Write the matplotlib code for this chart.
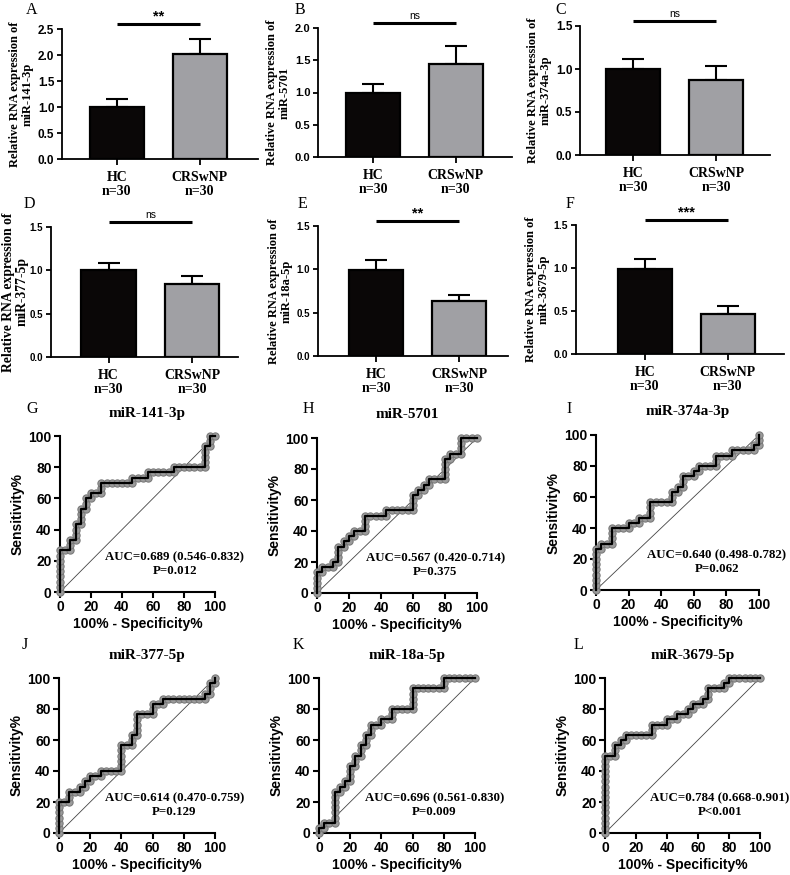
import matplotlib
matplotlib.use("Agg")
import matplotlib.pyplot as plt
import matplotlib.transforms as mtransforms

# ---- bar chart data (panels A-F) ----
groups = ["HC\nn=30", "CRSwNP\nn=30"]
bar_mirnas = ["miR-141-3p", "miR-5701", "miR-374a-3p",
              "miR-377-5p", "miR-18a-5p", "miR-3679-5p"]
hc_mean = [1.00, 0.99, 1.00, 1.00, 0.99, 0.99]
hc_err = [0.15, 0.14, 0.12, 0.09, 0.12, 0.12]
crs_mean = [2.01, 1.44, 0.87, 0.84, 0.63, 0.47]
crs_err = [0.30, 0.28, 0.17, 0.10, 0.07, 0.09]
bar_sig = ["**", "ns", "ns", "ns", "**", "***"]
bar_ymax = [2.5, 2.0, 1.5, 1.5, 1.5, 1.5]

# ---- ROC data (panels G-L), counts out of 30 controls / 30 patients ----
# at each fpr count the sensitivity count rises to the matching tpr count
roc_mirnas = ["miR-141-3p", "miR-5701", "miR-374a-3p",
              "miR-377-5p", "miR-18a-5p", "miR-3679-5p"]
g_fpr = [0, 2, 3, 4, 5, 6, 8, 14, 17, 22, 28, 29, 30]
g_tpr = [8, 10, 13, 16, 18, 19, 21, 22, 23, 24, 28, 30, 30]
h_fpr = [0, 1, 3, 4, 5, 6, 7, 9, 13, 18, 19, 20, 21, 24, 25, 27, 30]
h_tpr = [4, 5, 6, 9, 10, 11, 12, 15, 16, 19, 20, 21, 22, 26, 27, 30, 30]
i_fpr = [0, 1, 3, 6, 8, 10, 14, 15, 16, 18, 19, 22, 25, 29, 30]
i_tpr = [8, 9, 12, 13, 14, 17, 19, 20, 22, 23, 24, 26, 27, 28, 30]
j_fpr = [0, 2, 4, 5, 6, 8, 12, 14, 15, 18, 20, 28, 29, 30]
j_tpr = [6, 8, 9, 10, 11, 12, 17, 19, 23, 25, 26, 27, 29, 30]
k_fpr = [0, 1, 3, 4, 5, 6, 7, 8, 9, 10, 12, 14, 18, 24, 30]
k_tpr = [1, 2, 8, 9, 10, 13, 15, 17, 19, 21, 22, 24, 28, 30, 30]
l_fpr = [0, 2, 3, 4, 9, 12, 14, 16, 17, 19, 20, 23, 24, 30]
l_tpr = [15, 17, 18, 19, 21, 22, 23, 24, 25, 26, 28, 29, 30, 30]
roc_auc = ["AUC=0.689 (0.546-0.832)", "AUC=0.567 (0.420-0.714)",
           "AUC=0.640 (0.498-0.782)", "AUC=0.614 (0.470-0.759)",
           "AUC=0.696 (0.561-0.830)", "AUC=0.784 (0.668-0.901)"]
roc_p = ["P=0.012", "P=0.375", "P=0.062", "P=0.129", "P=0.009", "P<0.001"]
n_ctrl = 30
n_case = 30

W, H = 790, 875
SERIF = "Liberation Serif"
SANS = "Liberation Sans"

fig = plt.figure(figsize=(W / 100, H / 100), dpi=100)


def px_axes(l, t, r, b):
    return fig.add_axes([l / W, 1 - b / H, (r - l) / W, (b - t) / H])


def roc_points(fpr, tpr):
    xs, ys = [0], [0]
    cx, cy = 0, 0
    for fx, ty in zip(fpr, tpr):
        while cx < fx:
            cx += 1
            xs.append(cx)
            ys.append(cy)
        while cy < ty:
            cy += 1
            xs.append(cx)
            ys.append(cy)
    return ([x * 100 / n_ctrl for x in xs], [y * 100 / n_case for y in ys])


# bar panel layout: (left, top, right, bottom) px and x-limits
bar_rects = [(62, 29, 258, 159), (318, 28, 512, 157), (580, 26, 770, 155),
             (51, 227, 238, 357), (318, 226, 508, 356), (576, 225, 784, 354)]
bar_xlims = [(-0.66, 1.70), (-0.67, 1.68), (-0.64, 1.65),
             (-0.69, 1.55), (-0.70, 1.59), (-0.83, 1.68)]
ylabel_size = [9, 9, 9, 9.8, 9, 9]
ylabel_pad = [3, 3, 3, 1, 3, 3]
ytick_size = [8.5, 8, 8.5, 7, 7, 7.5]

for i in range(6):
    ax = px_axes(*bar_rects[i])
    ax.bar([0, 1], [hc_mean[i], crs_mean[i]], width=0.65,
           color=["#0a0707", "#a0a0a4"], edgecolor="black", linewidth=1.6,
           zorder=3)
    ax.errorbar([0, 1], [hc_mean[i], crs_mean[i]],
                yerr=[[0, 0], [hc_err[i], crs_err[i]]], fmt="none",
                ecolor="black", elinewidth=1.5, capsize=8, capthick=1.5,
                zorder=2)
    ax.set_xlim(*bar_xlims[i])
    ax.set_ylim(0, bar_ymax[i])
    ticks = [k * 0.5 for k in range(int(bar_ymax[i] / 0.5) + 1)]
    ax.set_yticks(ticks)
    ax.set_yticklabels(["%.1f" % t for t in ticks], fontsize=ytick_size[i],
                       fontfamily=SANS, fontweight="bold")
    ax.set_xticks([0, 1])
    ax.set_xticklabels(groups, fontsize=10, fontfamily=SERIF,
                       fontweight="bold", linespacing=1.15)
    for s in ["top", "right"]:
        ax.spines[s].set_visible(False)
    for s in ["left", "bottom"]:
        ax.spines[s].set_linewidth(1.3)
    ax.tick_params(axis="both", width=1.3, length=3.5, pad=2)
    ax.tick_params(axis="x", length=4.5, pad=4)
    ax.set_ylabel("Relative RNA expression of\n" + bar_mirnas[i],
                  fontsize=ylabel_size[i], fontfamily=SERIF, fontweight="bold",
                  linespacing=1.05, labelpad=ylabel_pad[i])
    trans = mtransforms.blended_transform_factory(ax.transData, ax.transAxes)
    hgt = bar_rects[i][3] - bar_rects[i][1]
    ly = 1 + 5 / hgt
    ax.plot([0, 1], [ly, ly], color="black", lw=2.2, transform=trans,
            clip_on=False, solid_capstyle="butt")
    if bar_sig[i] == "ns":
        ax.text(0.5, ly + 2 / hgt, "ns", transform=trans, ha="center",
                va="bottom", fontsize=7.5, fontfamily=SANS)
    else:
        ax.text(0.5, ly + 0.5 / hgt, bar_sig[i], transform=trans, ha="center",
                va="bottom", fontsize=10.5, fontfamily=SANS, fontweight="bold")

# ROC panel layout
roc_rects = [(60, 436, 215, 592), (317, 438, 477, 593), (596, 435, 759, 590),
             (59, 678, 215, 833), (319, 678, 475, 833), (605, 678, 760, 833)]
roc_data = [(g_fpr, g_tpr), (h_fpr, h_tpr), (i_fpr, i_tpr),
            (j_fpr, j_tpr), (k_fpr, k_tpr), (l_fpr, l_tpr)]

for i in range(6):
    ax = px_axes(*roc_rects[i])
    xs, ys = roc_points(*roc_data[i])
    ax.plot([0, 100], [0, 100], color="#444444", lw=0.6, zorder=1)
    ax.plot(xs, ys, "o", ms=5.2, mfc="#9c9c9c", mec="#7a7a7a", mew=0.8,
            zorder=3, clip_on=False)
    ax.plot(xs, ys, color="black", lw=1.6, zorder=4, clip_on=False)
    ax.set_xlim(0, 100)
    ax.set_ylim(0, 100)
    ax.set_xticks(range(0, 101, 20))
    ax.set_yticks(range(0, 101, 20))
    for lab in ax.get_xticklabels() + ax.get_yticklabels():
        lab.set_fontfamily(SANS)
        lab.set_fontweight("bold")
        lab.set_fontsize(10)
    for s in ["top", "right"]:
        ax.spines[s].set_visible(False)
    for s in ["left", "bottom"]:
        ax.spines[s].set_linewidth(1.5)
    ax.tick_params(axis="both", width=1.5, length=4, pad=2)
    ax.set_xlabel("100% - Specificity%", fontsize=10, fontfamily=SANS,
                  fontweight="bold", labelpad=2)
    ax.set_ylabel("Sensitivity%", fontsize=10, fontfamily=SANS,
                  fontweight="bold", labelpad=3)
    wpx = roc_rects[i][2] - roc_rects[i][0]
    hpx = roc_rects[i][3] - roc_rects[i][1]
    ax.text(0.5 + 10 / wpx, 1 + 23 / hpx, roc_mirnas[i], transform=ax.transAxes,
            ha="center", va="center", fontsize=11, fontfamily=SERIF,
            fontweight="bold")
    ax.text(74, 22.5, roc_auc[i], ha="center", va="center", fontsize=9.3,
            fontfamily=SERIF, fontweight="bold", zorder=5)
    ax.text(74, 13.5, roc_p[i], ha="center", va="center", fontsize=9.3,
            fontfamily=SERIF, fontweight="bold", zorder=5)

# panel letters
letters = ["A", "B", "C", "D", "E", "F", "G", "H", "I", "J", "K", "L"]
letter_pos = [(26, 2), (295, 2), (555, 2), (24, 196), (298, 196), (566, 196),
              (26, 401), (303, 401), (566, 401), (22, 637), (293, 637), (574, 637)]
for letter, (lx, ly) in zip(letters, letter_pos):
    fig.text(lx / W, 1 - ly / H, letter, ha="left", va="top", fontsize=11.5,
             fontfamily=SERIF)

fig.savefig("out.png", dpi=100)
